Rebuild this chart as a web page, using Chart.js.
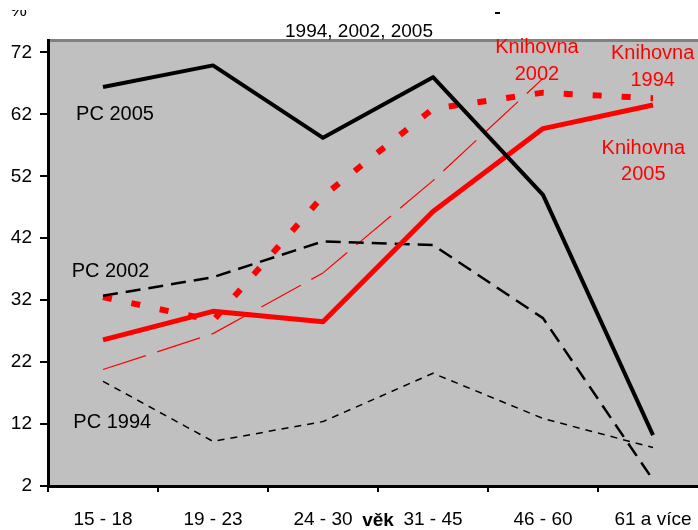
<!DOCTYPE html>
<html>
<head>
<meta charset="utf-8">
<script src="https://cdn.jsdelivr.net/npm/chart.js@4.4.1/dist/chart.umd.min.js"></script>
<style>
  html, body { margin: 0; padding: 0; background: #fff; overflow: hidden; }
  #wrap { width: 698px; height: 530px; overflow: hidden; }
</style>
</head>
<body>
<div id="wrap"><canvas id="lineChart" width="708" height="530"></canvas></div>
<script>
// data
const ageGroups = ['15 - 18', '19 - 23', '24 - 30', '31 - 45', '46 - 60', '61 a více'];
const yTicks = [2, 12, 22, 32, 42, 52, 62, 72];

const pc2005 = [66.4, 69.9, 58.2, 68.0, 49.0, 10.2];
const pc2002 = [32.7, 35.7, 41.5, 40.9, 29.1, 3.0];
const pc1994 = [18.9, 9.2, 12.4, 20.2, 12.9, 8.2];
const knihovna2005 = [25.6, 30.2, 28.5, 46.3, 59.7, 63.5];
const knihovna2002 = [20.8, 26.6, 36.4, 51.3, 67.8, null];
const knihovna1994 = [32.5, 28.7, 48.8, 62.9, 65.5, 64.6];

const FONT = '"Liberation Sans", Arial, sans-serif';

// series names written inside the plot (x = category index, y = value of first baseline)
const seriesLabels = [
  { lines: ['PC 2005'], color: '#000', align: 'left', at: [-0.245, 61.1] },
  { lines: ['PC 2002'], color: '#000', align: 'left', at: [-0.285, 35.8] },
  { lines: ['PC 1994'], color: '#000', align: 'left', at: [-0.27, 11.3] },
  { lines: ['Knihovna', '2002'], color: '#ff0000', align: 'center', at: [3.945, 71.9] },
  { lines: ['Knihovna', '1994'], color: '#ff0000', align: 'center', at: [4.997, 70.9] },
  { lines: ['Knihovna', '2005'], color: '#ff0000', align: 'center', at: [4.912, 55.6] }
];

const decorPlugin = {
  id: 'decor',
  beforeDraw(chart) {
    const { ctx, chartArea: a } = chart;
    ctx.save();
    ctx.fillStyle = '#c0c0c0';
    ctx.fillRect(a.left, a.top, a.right - a.left, a.bottom - a.top);
    ctx.strokeStyle = '#808080';
    ctx.lineWidth = 3;
    ctx.beginPath();
    ctx.moveTo(a.left, a.top + 0.5);
    ctx.lineTo(a.right, a.top + 0.5);
    ctx.stroke();

    ctx.fillStyle = '#000';
    ctx.font = '19px ' + FONT;
    ctx.textAlign = 'center';
    ctx.textBaseline = 'alphabetic';
    ctx.fillText('1994, 2002, 2005', 359, 37);

    // "%" is cut off at the top in the original
    ctx.save();
    ctx.beginPath();
    ctx.rect(0, 10, 60, 10);
    ctx.clip();
    ctx.textAlign = 'left';
    ctx.fillText('%', 10, 16);
    ctx.restore();
    ctx.fillRect(495, 12, 5, 2);
    ctx.restore();
  },
  afterDatasetsDraw(chart) {
    const { ctx, scales: { x, y } } = chart;
    ctx.save();
    ctx.font = '20px ' + FONT;
    ctx.textBaseline = 'alphabetic';
    seriesLabels.forEach(lab => {
      ctx.fillStyle = lab.color;
      ctx.textAlign = lab.align;
      const px = x.getPixelForValue(lab.at[0]);
      const py = y.getPixelForValue(lab.at[1]);
      lab.lines.forEach((t, i) => ctx.fillText(t, px, py + i * 26.5));
    });
    ctx.restore();
  }
};

function makeLine(label, data, color, width, dash) {
  return {
    label: label,
    data: data,
    borderColor: color,
    borderWidth: width,
    borderDash: dash,
    borderCapStyle: 'butt',
    borderJoinStyle: 'round',
    pointRadius: 0,
    tension: 0,
    fill: false
  };
}

const ctx = document.getElementById('lineChart').getContext('2d');

new Chart(ctx, {
  type: 'line',
  data: {
    labels: ageGroups,
    datasets: [
      makeLine('PC 2005', pc2005, '#000', 4, []),
      makeLine('Knihovna 2005', knihovna2005, '#ff0000', 5, []),
      makeLine('PC 2002', pc2002, '#000', 2.5, [15, 8]),
      makeLine('Knihovna 1994', knihovna1994, '#ff0000', 6, [9, 20]),
      makeLine('Knihovna 2002', knihovna2002, '#ff0000', 1.2, [45, 12]),
      makeLine('PC 1994', pc1994, '#000', 1.5, [7, 6])
    ]
  },
  options: {
    responsive: false,
    animation: false,
    devicePixelRatio: 1,
    layout: { padding: { top: 40, left: 0, right: 0, bottom: 0 } },
    plugins: {
      legend: { display: false },
      tooltip: { enabled: false }
    },
    scales: {
      x: {
        offset: true,
        afterFit: s => { s.height = 44; },
        border: { display: true, color: '#000', width: 3 },
        grid: { offset: true, drawOnChartArea: false, tickLength: 6, color: '#000', lineWidth: 2 },
        ticks: { color: '#000', font: { family: FONT, size: 19 }, padding: 16, maxRotation: 0, autoSkip: false },
        title: { display: true, text: 'věk', color: '#000', padding: 0, font: { family: FONT, size: 19, weight: 'bold', lineHeight: 1 } }
      },
      y: {
        min: 2,
        max: 74,
        afterBuildTicks: s => { s.ticks = yTicks.map(v => ({ value: v })); },
        afterFit: s => { s.width = 48; },
        border: { display: true, color: '#000', width: 3 },
        grid: { drawOnChartArea: false, tickLength: 8, color: '#000', lineWidth: 2 },
        ticks: { color: '#000', font: { family: FONT, size: 19 }, padding: 8 }
      }
    }
  },
  plugins: [decorPlugin]
});
</script>
</body>
</html>
